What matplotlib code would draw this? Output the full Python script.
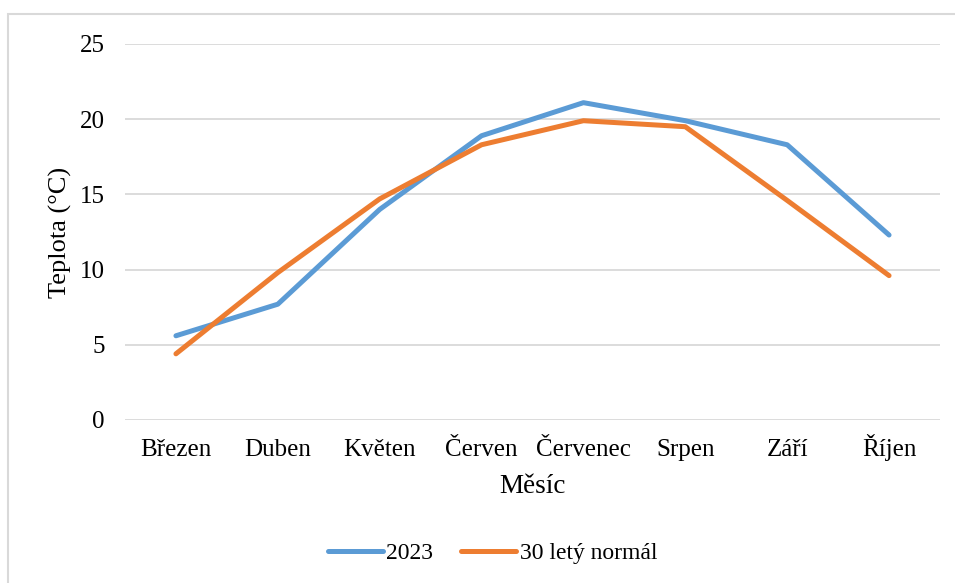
import matplotlib.pyplot as plt
from matplotlib.patches import Rectangle

plt.rcParams['font.family'] = ['Liberation Serif', 'DejaVu Serif']

months = ["Březen", "Duben", "Květen", "Červen", "Červenec", "Srpen", "Září", "Říjen"]
temp_2023 = [5.6, 7.7, 14.0, 18.9, 21.1, 19.9, 18.3, 12.3]
temp_normal = [4.4, 9.8, 14.7, 18.3, 19.9, 19.5, 14.6, 9.6]

fig = plt.figure(figsize=(9.55, 5.83), dpi=100)
ax = fig.add_axes([125/955, 1 - 420/583, 815/955, 376/583])

x = range(len(months))
ax.plot(x, temp_2023, color='#5B9BD5', lw=3.6, label='2023', solid_capstyle='round')
ax.plot(x, temp_normal, color='#ED7D31', lw=3.6, label='30 letý normál', solid_capstyle='round')

ax.set_xlim(-0.5, len(months) - 0.5)
ax.set_ylim(0, 25)
ax.set_yticks(range(0, 26, 5))
ax.set_xticks(list(x))
ax.set_xticklabels(months)
ax.tick_params(axis='both', length=0, labelsize=18)
ax.tick_params(axis='y', pad=14.5)
ax.tick_params(axis='x', pad=26)
for lab in ax.get_xticklabels():
    lab.set_va('baseline')
ax.grid(axis='y', color='#D9D9D9', lw=1.3)
ax.set_axisbelow(True)
for s in ax.spines.values():
    s.set_visible(False)

ax.set_ylabel('Teplota (°C)', fontsize=19, labelpad=6)
ax.set_xlabel('Měsíc', fontsize=19.5, va='baseline')
ax.xaxis.set_label_coords(0.5, -(493 - 420) / 376)

fig.legend(loc='center', bbox_to_anchor=(0.5157, 1 - 553/583), ncol=2, frameon=False,
           fontsize=17, handlelength=2.33, columnspacing=1.2, handletextpad=0.15)

# outer chart border
fig.patches.append(Rectangle((8/955, -0.2), 1.2, 1 - 14/583 + 0.2, transform=fig.transFigure,
                             fill=False, edgecolor='#D9D9D9', lw=1.5))

fig.savefig('out.png', dpi=100)
